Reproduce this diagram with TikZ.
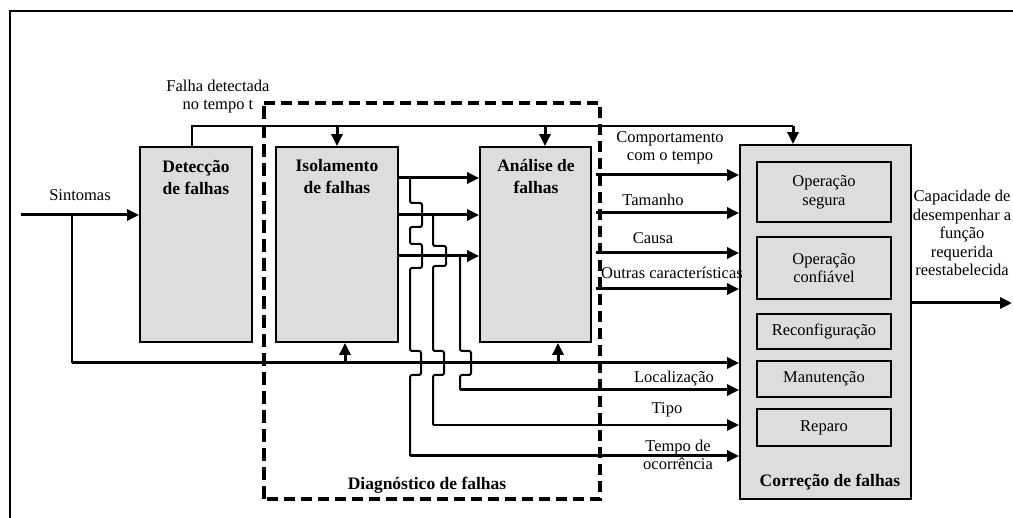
\documentclass[tikz,border=0pt]{standalone}
\usepackage{fontspec}
\setmainfont{Liberation Serif}
\usetikzlibrary{arrows.meta}
\definecolor{boxgray}{RGB}{221,221,221}
\begin{document}
\begin{tikzpicture}[x=1pt,y=-1pt,
  box/.style={draw, line width=1.8pt, fill=boxgray, inner sep=0pt},
  ibox/.style={draw, line width=1.8pt, fill=boxgray, inner sep=0pt, minimum width=134pt, font=\fontsize{16.5}{18.5}\selectfont, align=center},
  txt/.style={inner sep=0pt, font=\fontsize{16.5}{18.5}\selectfont, align=center},
  btxt/.style={inner sep=0pt, font=\fontsize{17.5}{22}\selectfont\bfseries, align=center},
  thinl/.style={line width=1.8pt},
  thk/.style={line width=3pt},
  tip/.style={-{Triangle[length=12pt,width=11pt]}},
  dashbox/.style={line width=3.2pt, dash pattern=on 11pt off 6pt},
  hop/.style={line width=2pt, rounded corners=2pt}
]
\useasboundingbox (0,0) rectangle (1013,518);
% outer frame
\draw[line width=1.8pt] (1013,11) -- (10,11) -- (10,518);

% main boxes
\node[box, minimum width=112pt, minimum height=195pt] (Det) at (196,244.5) {};
\node[box, minimum width=122pt, minimum height=195pt] (Iso) at (337,244.5) {};
\node[box, minimum width=111pt, minimum height=195pt] (Ana) at (535.5,244.5) {};
\node[box, minimum width=171pt, minimum height=354pt] (Cor) at (825.5,322) {};

\node[btxt] (DetT) at (196,177) {Detecção\\de falhas};
\node[btxt] (IsoT) at (337,177) {Isolamento\\de falhas};
\node[btxt] (AnaT) at (536,177) {Análise de\\falhas};
\node[btxt] (CorT) at (830,482) {Correção de falhas};

% inner boxes
\node[ibox, minimum height=60pt] (Seg) at (824,192) {Operação\\segura};
\node[ibox, minimum height=62pt] (Conf) at (824,268) {Operação\\confiável};
\node[ibox, minimum height=35pt] (Rec) at (824,331.5) {Reconfiguração};
\node[ibox, minimum height=36pt] (Man) at (824,379) {Manutenção};
\node[ibox, minimum height=37pt] (Rep) at (824,427.5) {Reparo};

% dashed diagnosis box
\coordinate (dTL) at (264,103);
\coordinate (dTR) at (600,103);
\coordinate (dBR) at (600,499);
\coordinate (dBL) at (264,499);
\draw[dashbox] (dTL) -- (dTR) -- (dBR) -- (dBL);
\draw[dashbox, line width=4.5pt, dash pattern=on 13pt off 6pt] (dBL) -- (dTL);
\node[btxt] (DiaT) at (427,485) {Diagnóstico de falhas};

% symptoms
\coordinate (sIn) at (21,215);
\coordinate (sB) at (72,215);
\coordinate (sC) at (72,363);
\node[txt] (SinT) at (80,195) {Sintomas};
\draw[thk,tip] (sIn) -- (Det.west |- sIn);
\draw[thinl] (sB) -- (sC);
\draw[thk,tip] (sC) -- (Cor.west |- sC);
\draw[thk,tip] (345,363) -- (Iso.south -| 345,363);
\draw[thk,tip] (558,363) -- (Ana.south -| 558,363);

% detected fault line
\coordinate (fT) at (192,126);
\coordinate (fR) at (793,126);
\node[txt] (FalT) at (218,96.5) {Falha detectada\\no tempo t};
\draw[thinl] (Det.north -| fT) -- (fT) -- (fR);
\draw[thk,tip] (fR) -- (Cor.north -| fR);
\draw[thk,tip] (337,126) -- (Iso.north);
\draw[thk,tip] (545,126) -- (Ana.north -| 545,126);

% isolation -> analysis
\draw[thk,tip] (Iso.east |- 0,178) -- (Ana.west |- 0,178);
\draw[thk,tip] (Iso.east |- 0,215) -- (Ana.west |- 0,215);
\draw[thk,tip] (Iso.east |- 0,256) -- (Ana.west |- 0,256);

% analysis -> correction
\coordinate (AnaO) at (596,0);
\draw[thk,tip] (AnaO |- 0,175) -- (Cor.west |- 0,175);
\draw[thk,tip] (AnaO |- 0,213) -- (Cor.west |- 0,213);
\draw[thk,tip] (AnaO |- 0,253) -- (Cor.west |- 0,253);
\draw[thk,tip] (AnaO |- 0,289) -- (Cor.west |- 0,289);
\node[txt] (ComT) at (670,148) {Comportamento\\com o tempo};
\node[txt] (TamT) at (653,200) {Tamanho};
\node[txt] (CauT) at (653,238) {Causa};
\node[txt] (OutT) at (672,273) {Outras características};

% branches with hops
\coordinate (cA) at (410,456);
\coordinate (cB) at (433,425);
\coordinate (cC) at (460,390);
\draw[hop] (410,178) -- (410,203) -- (422,203) -- (422,227) -- (410,227)
  -- (410,244) -- (422,244) -- (422,268) -- (410,268)
  -- (410,351) -- (421,351) -- (421,375) -- (410,375) -- (cA);
\draw[hop] (433,215) -- (433,246) -- (446,246) -- (446,266) -- (433,266)
  -- (433,351) -- (444,351) -- (444,375) -- (433,375) -- (cB);
\draw[hop] (460,256) -- (460,351) -- (471,351) -- (471,375) -- (460,375) -- (cC);
\draw[thk,tip] (cA) -- (Cor.west |- cA);
\draw[line width=2.2pt,tip] (cB) -- (Cor.west |- cB);
\draw[thk,tip] (cC) -- (Cor.west |- cC);
\node[txt] (LocT) at (674,379) {Localização};
\node[txt] (TipT) at (667,410) {Tipo};
\node[txt] (TemT) at (678,455) {Tempo de\\ocorrência};

% output
\coordinate (outE) at (1012,303);
\draw[thk,tip] (Cor.east |- outE) -- (outE);
\node[txt] (CapT) at (962,233) {Capacidade de\\desempenhar a\\função\\requerida\\reestabelecida};
\end{tikzpicture}
\end{document}
